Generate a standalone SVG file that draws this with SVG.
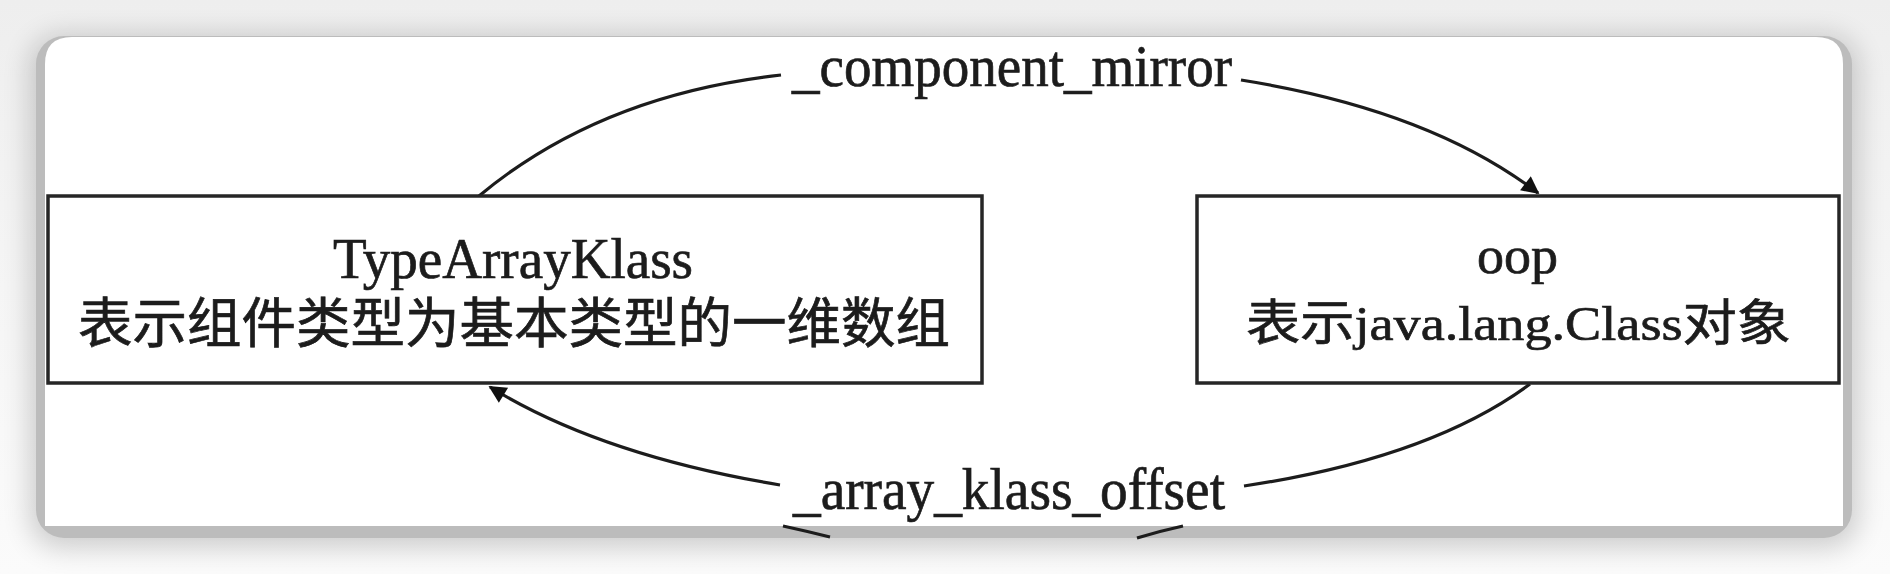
<svg xmlns="http://www.w3.org/2000/svg" width="1890" height="574" viewBox="0 0 1890 574">
<defs>
<style>
.node rect{fill:#fff;stroke:#262626;stroke-width:3.5}
.lat{font-family:"Liberation Serif","Noto Sans CJK SC",serif;fill:#1c1c1c;stroke:#1c1c1c;stroke-width:0.7}
.cjk{font-family:"Liberation Serif","Noto Sans CJK SC",sans-serif;fill:#1c1c1c;stroke:#1c1c1c;stroke-width:0.7}
.edge{fill:none;stroke:#1c1c1c;stroke-width:3.2}
</style>
<linearGradient id="bg" x1="0" y1="0" x2="0" y2="1">
<stop offset="0" stop-color="#eeeeee"/>
<stop offset="0.5" stop-color="#f5f5f5"/>
<stop offset="1" stop-color="#fbfbfb"/>
</linearGradient>
<filter id="sh" x="-10%" y="-20%" width="120%" height="140%">
<feGaussianBlur stdDeviation="14"/>
</filter>
<marker id="ah" viewBox="0 0 10 10" refX="9" refY="5" markerWidth="9" markerHeight="5.5" markerUnits="strokeWidth" orient="auto">
<path d="M0,0 L10,5 L0,10 z" fill="#111"/>
</marker>
</defs>
<rect x="0" y="0" width="1890" height="574" fill="url(#bg)"/>
<rect x="30" y="36" width="1828" height="512" rx="30" fill="#000" opacity="0.18" filter="url(#sh)"/>
<rect x="36" y="36" width="1816" height="502" rx="28" fill="#bcbcbc"/>
<path d="M45,526 L45,64 Q45,37 72,37 L1816,37 Q1843,37 1843,64 L1843,526 Z" fill="#ffffff"/>

<g id="connectors">
<path class="edge" d="M479,196 Q600,95 781,75"/>
<path class="edge" d="M1241,80 Q1430,110 1538,193" marker-end="url(#ah)"/>
<path class="edge" d="M1530,384 Q1430,458 1244,486"/>
<path class="edge" d="M780,485 Q600,455 490,387" marker-end="url(#ah)"/>
<path class="edge" d="M783,526 Q806,531 830,537"/>
<path class="edge" d="M1137,538 Q1160,531 1183,526"/>
<text class="lat" x="792" y="86" font-size="60" textLength="440" lengthAdjust="spacingAndGlyphs">_component_mirror</text>
<text class="lat" x="793" y="509" font-size="60" textLength="432" lengthAdjust="spacingAndGlyphs">_array_klass_offset</text>
</g>

<g id="node-typearrayklass" class="node">
<rect x="48" y="196" width="934" height="187"/>
<text class="lat" x="333" y="278" font-size="56" textLength="360" lengthAdjust="spacingAndGlyphs">TypeArrayKlass</text>
<text class="cjk" x="78" y="343" font-size="54" textLength="872" lengthAdjust="spacingAndGlyphs">表示组件类型为基本类型的一维数组</text>
</g>

<g id="node-oop" class="node">
<rect x="1197" y="196" width="642" height="187"/>
<text class="lat" x="1477" y="273" font-size="52" textLength="81" lengthAdjust="spacingAndGlyphs">oop</text>
<text class="lat" x="1246" y="340" font-size="49" textLength="545" lengthAdjust="spacingAndGlyphs">表示java.lang.Class对象</text>
</g>
</svg>
